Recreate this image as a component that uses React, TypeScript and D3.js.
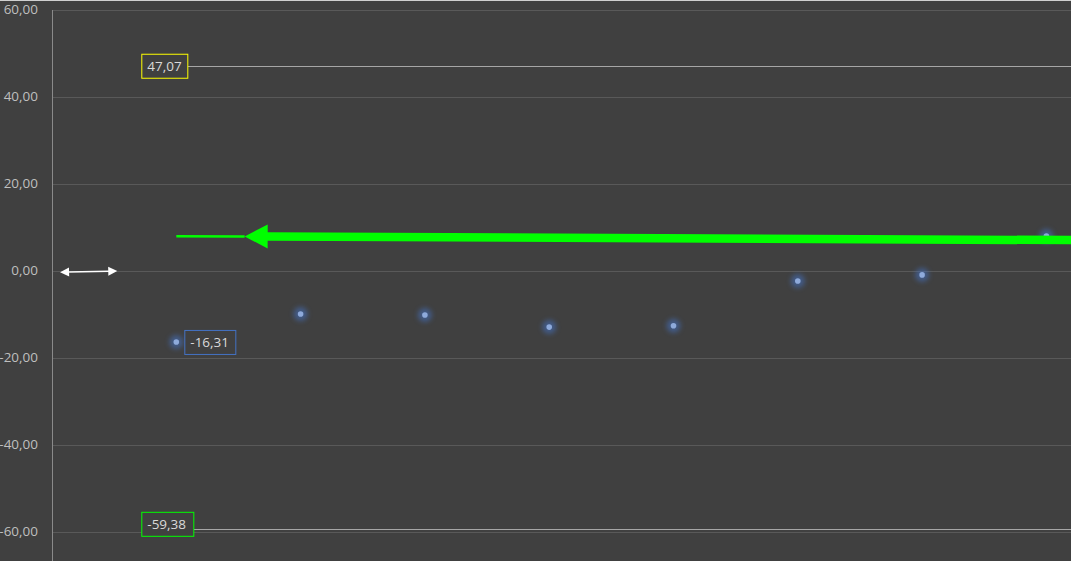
import React from "react";
import * as d3 from "d3";

// category index of each point and its value
const categories = [1, 2, 3, 4, 5, 6, 7, 8];
const values = [-16.31, -9.9, -10.1, -12.9, -12.6, -2.3, -0.9, 8.05];
const yTicks = [-60, -40, -20, 0, 20, 40, 60];

// max / min reference lines
const maxValue = 47.07;
const minValue = -59.38;

// green trend arrow (category position, value)
const trendStart = [1, 7.98];
const trendTip = [1.55, 7.95];
const trendEnd = [8.2, 7.1];

// white double arrow near zero
const dblArrow = [
  [0.065, -0.3],
  [0.525, 0.0],
];

const W = 1071;
const H = 561;
const fmt = (v: number) => v.toFixed(2).replace(".", ",");
const FONT = "'Segoe UI', 'Open Sans', sans-serif";

export default function App() {
  const x = d3.scaleLinear().domain([0, 8]).range([52, 1046.4]);
  const y = d3.scaleLinear().domain([-60, 60]).range([532, 10]);

  // trend arrow geometry
  const tx = x(trendTip[0]);
  const ty = y(trendTip[1]);
  const ex = x(trendEnd[0]);
  const ey = y(trendEnd[1]);
  const ang = Math.atan2(ey - ty, ex - tx);
  const headLen = 23;
  const headHalf = 12;
  const bx = tx + Math.cos(ang) * headLen;
  const by = ty + Math.sin(ang) * headLen;
  const nx = -Math.sin(ang);
  const ny = Math.cos(ang);

  // double arrow geometry
  const ax1 = x(dblArrow[0][0]);
  const ay1 = y(dblArrow[0][1]);
  const ax2 = x(dblArrow[1][0]);
  const ay2 = y(dblArrow[1][1]);
  const da = Math.atan2(ay2 - ay1, ax2 - ax1);
  const head = (px: number, py: number, dir: number) => {
    const l = 9;
    const h = 4.5;
    const cx = px + Math.cos(dir) * l;
    const cy = py + Math.sin(dir) * l;
    const qx = -Math.sin(dir);
    const qy = Math.cos(dir);
    return `${px},${py} ${cx + qx * h},${cy + qy * h} ${cx - qx * h},${cy - qy * h}`;
  };

  const labelLeft = x(categories[0]) - 35;

  return (
    <div style={{ position: "fixed", left: 0, top: 0 }}>
      <svg width={W} height={H} style={{ display: "block" }}>
        <defs>
          <filter id="glow" x="-100%" y="-100%" width="300%" height="300%">
            <feGaussianBlur stdDeviation="2.5" />
          </filter>
        </defs>
        <rect x={0} y={0} width={W} height={H} fill="#404040" />
        <line x1={0} x2={W} y1={0.5} y2={0.5} stroke="#d0d0d0" strokeWidth={1} />

        {/* gridlines */}
        {yTicks.map((t) => (
          <line
            key={t}
            x1={52}
            x2={W}
            y1={Math.round(y(t)) + 0.5}
            y2={Math.round(y(t)) + 0.5}
            stroke="#595959"
            strokeWidth={1}
          />
        ))}
        {/* y axis */}
        <line x1={52.5} x2={52.5} y1={10} y2={H} stroke="#8a8a8a" strokeWidth={1} />
        {yTicks.map((t) => (
          <text
            key={t}
            x={38}
            y={y(t)}
            textAnchor="end"
            dominantBaseline="middle"
            fontFamily={FONT}
            fontSize={13.5}
            fill="#bfbfbf"
          >
            {fmt(t)}
          </text>
        ))}

        {/* max line */}
        <line x1={labelLeft + 46} x2={W} y1={Math.round(y(maxValue)) + 0.5} y2={Math.round(y(maxValue)) + 0.5} stroke="#a6a6a6" />
        <rect x={labelLeft + 0.5} y={y(maxValue) - 12} width={46} height={24} fill="#404040" stroke="#ffff00" />
        <text x={labelLeft + 6} y={y(maxValue) + 1} dominantBaseline="middle" fontFamily={FONT} fontSize={13.5} fill="#d9d9d9">
          {fmt(maxValue)}
        </text>

        {/* min line */}
        <line x1={labelLeft + 52} x2={W} y1={Math.round(y(minValue)) + 0.5} y2={Math.round(y(minValue)) + 0.5} stroke="#a6a6a6" />
        <rect x={labelLeft + 0.5} y={y(minValue) - 17} width={52} height={24} fill="#404040" stroke="#00ff00" />
        <text x={labelLeft + 6} y={y(minValue) - 4} dominantBaseline="middle" fontFamily={FONT} fontSize={13.5} fill="#d9d9d9">
          {fmt(minValue)}
        </text>

        {/* points */}
        {values.map((v, i) => (
          <g key={i}>
            <circle cx={x(categories[i])} cy={y(v)} r={7} fill="#4472c4" opacity={0.55} filter="url(#glow)" />
            <circle cx={x(categories[i])} cy={y(v)} r={2.8} fill="#8eaadb" />
          </g>
        ))}

        {/* first point label */}
        <rect
          x={x(categories[0]) + 8.5}
          y={y(values[0]) - 11.5}
          width={51}
          height={24}
          fill="#404040"
          stroke="#4472c4"
        />
        <text
          x={x(categories[0]) + 14}
          y={y(values[0]) + 1}
          dominantBaseline="middle"
          fontFamily={FONT}
          fontSize={13.5}
          fill="#d9d9d9"
        >
          {fmt(values[0])}
        </text>

        {/* green trend arrow */}
        <line
          x1={x(trendStart[0])}
          y1={y(trendStart[1])}
          x2={tx}
          y2={ty}
          stroke="#00ff00"
          strokeWidth={2.5}
        />
        <line x1={bx - 1} y1={by} x2={ex} y2={ey} stroke="#00ff00" strokeWidth={8.5} />
        <polygon
          points={`${tx},${ty} ${bx + nx * headHalf},${by + ny * headHalf} ${bx - nx * headHalf},${by - ny * headHalf}`}
          fill="#00ff00"
        />

        {/* white double arrow */}
        <line
          x1={ax1 + Math.cos(da) * 8}
          y1={ay1 + Math.sin(da) * 8}
          x2={ax2 - Math.cos(da) * 8}
          y2={ay2 - Math.sin(da) * 8}
          stroke="#ffffff"
          strokeWidth={1.5}
        />
        <polygon points={head(ax1, ay1, da)} fill="#ffffff" />
        <polygon points={head(ax2, ay2, da + Math.PI)} fill="#ffffff" />
      </svg>
    </div>
  );
}
